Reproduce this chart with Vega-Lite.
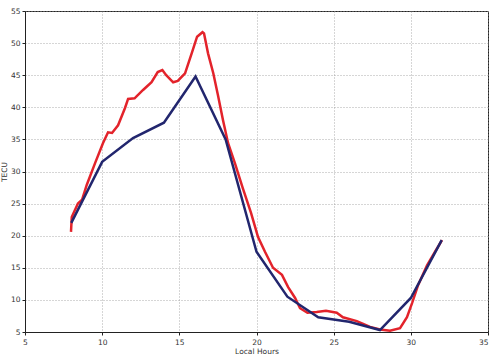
{
  "$schema": "https://vega.github.io/schema/vega-lite/v6.json",
  "width": 463,
  "height": 321,
  "padding": {"left": 25, "top": 11, "right": 3, "bottom": 24},
  "autosize": {"type": "none"},
  "background": "#ffffff",
  "config": {
    "view": {"stroke": "#222222", "strokeWidth": 1},
    "axis": {
      "labelFont": "DejaVu Sans",
      "titleFont": "DejaVu Sans",
      "labelFontSize": 7.5,
      "titleFontSize": 7.5,
      "titleFontWeight": "normal",
      "labelColor": "#333333",
      "titleColor": "#333333",
      "domainColor": "#222222",
      "tickColor": "#222222",
      "tickSize": 3,
      "gridColor": "#9a9a9a",
      "gridDash": [1, 2],
      "gridOpacity": 0.8
    }
  },
  "data": {
    "values": [
      {"series": "Observed", "x": 7.98, "y": 20.6},
      {"series": "Observed", "x": 8.03, "y": 22.9},
      {"series": "Observed", "x": 8.43, "y": 25.0},
      {"series": "Observed", "x": 8.7, "y": 25.6},
      {"series": "Observed", "x": 9.0, "y": 27.9},
      {"series": "Observed", "x": 9.54, "y": 31.3},
      {"series": "Observed", "x": 10.05, "y": 34.4},
      {"series": "Observed", "x": 10.38, "y": 36.1},
      {"series": "Observed", "x": 10.64, "y": 36.0},
      {"series": "Observed", "x": 11.03, "y": 37.2},
      {"series": "Observed", "x": 11.48, "y": 39.9},
      {"series": "Observed", "x": 11.68, "y": 41.3},
      {"series": "Observed", "x": 12.1, "y": 41.4},
      {"series": "Observed", "x": 12.65, "y": 42.7},
      {"series": "Observed", "x": 13.2, "y": 43.9},
      {"series": "Observed", "x": 13.6, "y": 45.5},
      {"series": "Observed", "x": 13.9, "y": 45.8},
      {"series": "Observed", "x": 14.15, "y": 45.0},
      {"series": "Observed", "x": 14.6, "y": 43.9},
      {"series": "Observed", "x": 14.9, "y": 44.1},
      {"series": "Observed", "x": 15.37, "y": 45.3},
      {"series": "Observed", "x": 15.8, "y": 48.4},
      {"series": "Observed", "x": 16.15, "y": 51.0},
      {"series": "Observed", "x": 16.5, "y": 51.7},
      {"series": "Observed", "x": 16.6, "y": 51.5},
      {"series": "Observed", "x": 16.86, "y": 48.4},
      {"series": "Observed", "x": 17.2, "y": 45.3},
      {"series": "Observed", "x": 17.5, "y": 41.9},
      {"series": "Observed", "x": 17.83, "y": 38.0},
      {"series": "Observed", "x": 18.16, "y": 34.4},
      {"series": "Observed", "x": 18.6, "y": 31.3},
      {"series": "Observed", "x": 19.1, "y": 27.5},
      {"series": "Observed", "x": 19.65, "y": 23.5},
      {"series": "Observed", "x": 20.1, "y": 19.8},
      {"series": "Observed", "x": 20.55, "y": 17.5},
      {"series": "Observed", "x": 21.07, "y": 15.0},
      {"series": "Observed", "x": 21.65, "y": 13.9},
      {"series": "Observed", "x": 22.05, "y": 12.0},
      {"series": "Observed", "x": 22.5, "y": 10.3},
      {"series": "Observed", "x": 22.82, "y": 8.7},
      {"series": "Observed", "x": 23.3, "y": 8.0},
      {"series": "Observed", "x": 23.9, "y": 8.1},
      {"series": "Observed", "x": 24.5, "y": 8.3},
      {"series": "Observed", "x": 25.2, "y": 8.0},
      {"series": "Observed", "x": 25.6, "y": 7.3},
      {"series": "Observed", "x": 26.5, "y": 6.7},
      {"series": "Observed", "x": 27.36, "y": 5.8},
      {"series": "Observed", "x": 28.0, "y": 5.4},
      {"series": "Observed", "x": 28.65, "y": 5.2},
      {"series": "Observed", "x": 29.3, "y": 5.6},
      {"series": "Observed", "x": 29.75, "y": 7.3},
      {"series": "Observed", "x": 30.08, "y": 9.5},
      {"series": "Observed", "x": 30.47, "y": 12.3},
      {"series": "Observed", "x": 31.05, "y": 15.4},
      {"series": "Observed", "x": 31.57, "y": 17.5},
      {"series": "Observed", "x": 32.02, "y": 19.3},
      {"series": "Model", "x": 8, "y": 22.0},
      {"series": "Model", "x": 10, "y": 31.5},
      {"series": "Model", "x": 12, "y": 35.2},
      {"series": "Model", "x": 14, "y": 37.6},
      {"series": "Model", "x": 16.05, "y": 44.8},
      {"series": "Model", "x": 18, "y": 35.0},
      {"series": "Model", "x": 20, "y": 17.5},
      {"series": "Model", "x": 22, "y": 10.5},
      {"series": "Model", "x": 24, "y": 7.3},
      {"series": "Model", "x": 26, "y": 6.6},
      {"series": "Model", "x": 28, "y": 5.3},
      {"series": "Model", "x": 30, "y": 10.3},
      {"series": "Model", "x": 32, "y": 19.3}
    ]
  },
  "mark": {"type": "line", "strokeWidth": 2.5, "clip": true},
  "encoding": {
    "x": {
      "field": "x",
      "type": "quantitative",
      "scale": {"domain": [5, 35], "nice": false, "zero": false},
      "axis": {"values": [5, 10, 15, 20, 25, 30, 35], "title": "Local Hours", "labelPadding": 3, "titlePadding": 2, "labelFlush": false, "labelAlign": {"expr": "datum.value == 35 ? 'right' : 'center'"}}
    },
    "y": {
      "field": "y",
      "type": "quantitative",
      "scale": {"domain": [5, 55], "nice": false, "zero": false},
      "axis": {"values": [5, 10, 15, 20, 25, 30, 35, 40, 45, 50, 55], "title": "TECU", "labelPadding": 2, "titlePadding": 2, "labelFlush": false}
    },
    "color": {
      "field": "series",
      "type": "nominal",
      "scale": {"domain": ["Observed", "Model"], "range": ["#e3232b", "#22266e"]},
      "legend": null
    },
    "order": {"field": "series", "sort": "descending"}
  }
}
